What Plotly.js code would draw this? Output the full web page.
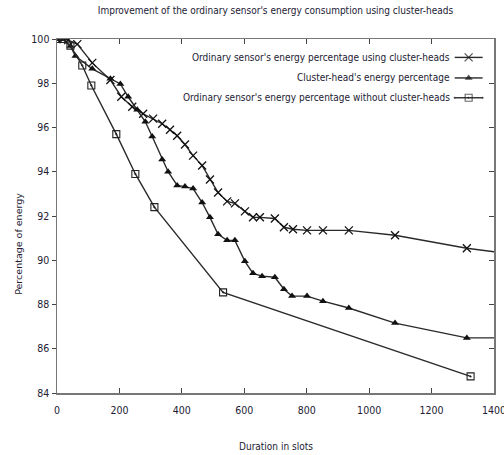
<!DOCTYPE html>
<html>
<head>
<meta charset="utf-8">
<script src="https://cdn.plot.ly/plotly-3.0.1.min.js"></script>
<style>html,body{margin:0;padding:0;background:#fff;}#chart{width:504px;height:455px;}</style>
</head>
<body>
<div id="chart"></div>
<script>
var seriesNames = [
  "Ordinary sensor's energy percentage using cluster-heads",
  "Cluster-head's energy percentage",
  "Ordinary sensor's energy percentage without cluster-heads"
];
var xTicks = [0, 200, 400, 600, 800, 1000, 1200, 1400];
var yTicks = [84, 86, 88, 90, 92, 94, 96, 98, 100];

var withChX = [0, 20, 36, 65, 113, 171, 206, 241, 276, 308, 337, 362, 385, 410, 436, 465, 490, 516, 545, 570, 602, 628, 650, 698, 727, 756, 801, 852, 935, 1083, 1313, 1500];
var withChY = [100, 100, 99.95, 99.77, 98.92, 98.15, 97.39, 96.94, 96.62, 96.40, 96.17, 95.90, 95.63, 95.23, 94.73, 94.28, 93.65, 93.06, 92.66, 92.57, 92.21, 91.94, 91.94, 91.89, 91.49, 91.40, 91.35, 91.35, 91.35, 91.13, 90.54, 90.2];

var chX = [0, 17, 43, 59, 113, 171, 203, 228, 257, 283, 305, 337, 356, 385, 410, 436, 465, 490, 516, 545, 570, 602, 628, 657, 698, 727, 753, 801, 852, 935, 1083, 1313, 1500];
var chY = [100, 100, 99.68, 99.23, 98.65, 98.2, 97.97, 97.39, 96.8, 96.26, 95.59, 94.55, 94.0, 93.38, 93.33, 93.24, 92.61, 91.94, 91.17, 90.90, 90.90, 89.95, 89.41, 89.28, 89.23, 88.69, 88.38, 88.38, 88.15, 87.84, 87.16, 86.49, 86.49];

var noChX = [0, 17, 43, 81, 110, 190, 251, 312, 532, 1325];
var noChY = [100, 100, 99.7, 98.8, 97.9, 95.7, 93.9, 92.4, 88.55, 84.75];

var xs = [withChX, chX, noChX];
var ys = [withChY, chY, noChY];
var markerStyles = [
  {symbol: 'x-thin', size: 8, color: '#111', line: {width: 1.3, color: '#111'}},
  {symbol: 'triangle-up', size: 7, color: '#111', line: {width: 0}},
  {symbol: 'square-open-dot', size: 7, color: '#222', line: {width: 1.1, color: '#222'}}
];
var lineColor = '#2a2a2a';
var txtFont = 'DejaVu Sans Condensed, Liberation Sans Narrow, sans-serif';
var txtCol = '#221a33';

var traces = [];
for (var i = 0; i < 3; i++) {
  traces.push({
    x: xs[i], y: ys[i], type: 'scatter', mode: 'lines+markers',
    name: seriesNames[i], showlegend: false,
    line: {color: lineColor, width: 1.4},
    marker: markerStyles[i], cliponaxis: true
  });
}
// legend samples drawn on a hidden unit overlay axis
var legRowY = [0.948, 0.890, 0.834];
for (var j = 0; j < 3; j++) {
  traces.push({
    x: [0.91, 0.942, 0.974], y: [legRowY[j], legRowY[j], legRowY[j]],
    xaxis: 'x2', yaxis: 'y2', type: 'scatter', mode: 'lines+markers',
    showlegend: false, hoverinfo: 'skip',
    line: {color: lineColor, width: 1.4},
    marker: Object.assign({}, markerStyles[j], {size: [0, markerStyles[j].size, 0]})
  });
}
// right-side inner ticks
traces.push({x: [0], y: [90], xaxis: 'x', yaxis: 'y3', type: 'scatter', mode: 'markers',
  marker: {opacity: 0}, showlegend: false, hoverinfo: 'skip'});

var annotations = [];
for (var k = 0; k < 3; k++) {
  annotations.push({
    text: seriesNames[k], xref: 'paper', yref: 'paper', x: 0.903, y: legRowY[k],
    xanchor: 'right', yanchor: 'middle', showarrow: false,
    font: {family: txtFont, size: 10, color: txtCol}
  });
}
annotations.push({text: 'Duration in slots', xref: 'paper', yref: 'paper', x: 0.5, y: -0.15,
  xanchor: 'center', yanchor: 'middle', showarrow: false,
  font: {family: txtFont, size: 10, color: txtCol}});
annotations.push({text: 'Percentage of energy', xref: 'paper', yref: 'paper', x: -0.088, y: 0.42,
  xanchor: 'center', yanchor: 'middle', showarrow: false, textangle: -90,
  font: {family: 'DejaVu Sans, sans-serif', size: 9.5, color: txtCol}});

var axisCol = '#777';
var layout = {
  width: 504, height: 455,
  margin: {l: 57, r: 10, t: 39, b: 62, pad: 0},
  paper_bgcolor: '#fff', plot_bgcolor: '#fff',
  title: {text: "Improvement of the ordinary sensor's energy consumption using cluster-heads",
    x: 0.5, xref: 'paper', y: 0.976, yref: 'container', xanchor: 'center', yanchor: 'middle',
    font: {family: txtFont, size: 10, color: txtCol}},
  xaxis: {range: [0, 1400], tickvals: xTicks, ticktext: xTicks.map(String), ticks: 'inside',
    ticklen: 5, tickcolor: '#444', tickwidth: 1, mirror: 'ticks', showline: true, linecolor: axisCol,
    linewidth: 1.5, showgrid: false, zeroline: false, ticklabeloverflow: 'allow',
    ticklabelstandoff: 7,
    tickfont: {family: txtFont, size: 10.5, color: txtCol}},
  yaxis: {range: [84, 100], tickvals: yTicks, ticktext: yTicks.map(String), ticks: 'outside',
    ticklen: 4, tickcolor: '#444', tickwidth: 1, mirror: true, showline: true, linecolor: axisCol,
    linewidth: 1.5, showgrid: false, zeroline: false,
    tickfont: {family: txtFont, size: 10.5, color: txtCol}},
  yaxis3: {range: [84, 100], overlaying: 'y', side: 'right', tickvals: yTicks, ticks: 'inside',
    ticklen: 5, tickcolor: '#444', tickwidth: 1, showticklabels: false, showline: false,
    showgrid: false, zeroline: false},
  xaxis2: {range: [0, 1], overlaying: 'x', visible: false, fixedrange: true},
  yaxis2: {range: [0, 1], overlaying: 'y', visible: false, fixedrange: true},
  annotations: annotations,
  showlegend: false
};
Plotly.newPlot('chart', traces, layout, {displayModeBar: false, staticPlot: true});
</script>
</body>
</html>
